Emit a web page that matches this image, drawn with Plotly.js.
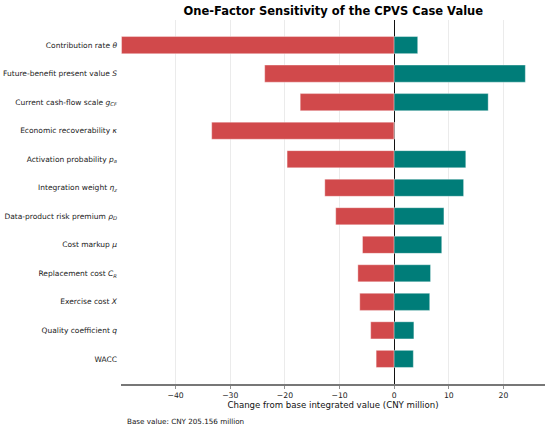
<!DOCTYPE html>
<html>
<head>
<meta charset="utf-8">
<script src="https://cdn.plot.ly/plotly-3.0.1.min.js"></script>
<style>html,body{margin:0;padding:0;background:#fff;}#chart{width:550px;height:430px;}</style>
</head>
<body>
<div id="chart"></div>
<script>
const factors = [
  "Contribution rate <i>θ</i>",
  "Future-benefit present value <i>S</i>",
  "Current cash-flow scale <i>g</i><sub><i>CF</i></sub>",
  "Economic recoverability <i>κ</i>",
  "Activation probability <i>p</i><sub><i>a</i></sub>",
  "Integration weight <i>η</i><sub><i>z</i></sub>",
  "Data-product risk premium <i>ρ</i><sub><i>D</i></sub>",
  "Cost markup <i>μ</i>",
  "Replacement cost <i>C</i><sub><i>R</i></sub>",
  "Exercise cost <i>X</i>",
  "Quality coefficient <i>q</i>",
  "WACC"
];
const downside = [-49.9, -23.7, -17.2, -33.4, -19.6, -12.7, -10.7, -5.8, -6.65, -6.3, -4.3, -3.3];
const upside = [4.3, 24.0, 17.2, 0.0, 13.1, 12.7, 9.1, 8.7, 6.65, 6.5, 3.6, 3.5];
const tickVals = [-40, -30, -20, -10, 0, 10, 20];
const tickText = ["−40", "−30", "−20", "−10", "0", "10", "20"];

const font = "DejaVu Sans, sans-serif";
const traces = [
  {type: "bar", orientation: "h", y: factors, x: downside, width: 0.6,
   marker: {color: "#d1494b", line: {color: "rgba(255,255,255,0.6)", width: 0.6}}, hoverinfo: "x+y"},
  {type: "bar", orientation: "h", y: factors, x: upside, width: 0.6,
   marker: {color: "#007d79", line: {color: "rgba(255,255,255,0.6)", width: 0.6}}, hoverinfo: "x+y"}
];
const layout = {
  width: 550, height: 430,
  margin: {l: 121, r: 5, t: 20, b: 46},
  paper_bgcolor: "#fff", plot_bgcolor: "#fff",
  barmode: "overlay", showlegend: false,
  font: {family: font, color: "#222", size: 7.5},
  title: {text: "<b>One-Factor Sensitivity of the CPVS Case Value</b>", font: {family: font, size: 11.5, color: "#000"},
          x: 0.606, xanchor: "center", y: 0.975, yanchor: "middle"},
  xaxis: {range: [-50, 27.6], tickvals: tickVals, ticktext: tickText, showgrid: true, gridcolor: "#e6e6e6", gridwidth: 0.8,
          zeroline: true, zerolinecolor: "#111", zerolinewidth: 1,
          showline: true, linecolor: "#777", linewidth: 1.5, ticks: "outside", ticklen: 3, tickcolor: "#777", tickwidth: 0.8,
          tickfont: {size: 7.7, color: "#222"},
          title: {text: "Change from base integrated value (CNY million)", font: {size: 8.6, color: "#111"}, standoff: 3}},
  yaxis: {autorange: false, range: [11.88, -0.88], type: "category", showgrid: false, zeroline: false, showline: false, ticks: "",
          tickfont: {size: 7.5, color: "#222"}, ticklabelstandoff: 3},
  annotations: [{xref: "paper", yref: "paper", x: 0.009, y: -0.104, xanchor: "left", yanchor: "middle", showarrow: false,
                 text: "Base value: CNY 205.156 million", font: {size: 7.2, color: "#111"}}]
};
Plotly.newPlot("chart", traces, layout, {displayModeBar: false, staticPlot: true});
</script>
</body>
</html>
